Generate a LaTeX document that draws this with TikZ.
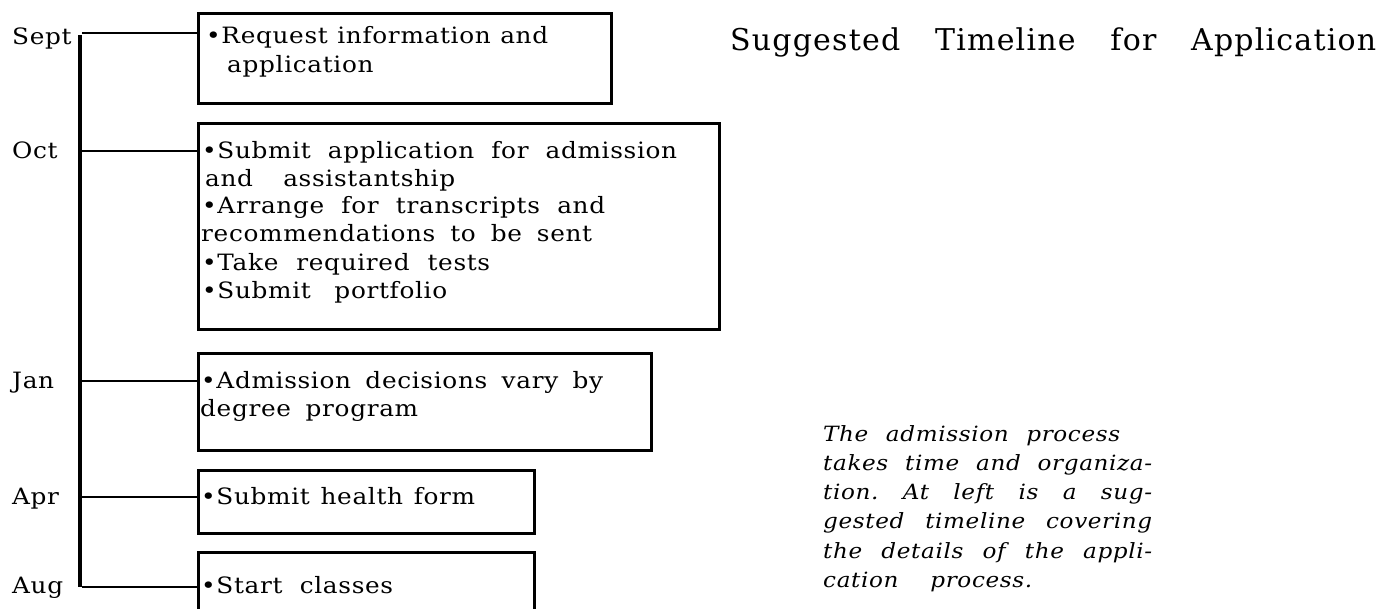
\documentclass[tikz,border=0pt]{standalone}
\usepackage{fontspec}
\newfontfamily\bxfont{DejaVu Serif}[LetterSpace=3,FakeStretch=1.1]
\newfontfamily\ttlfont{DejaVu Serif}[LetterSpace=4]
\newfontfamily\parfont{DejaVu Serif Italic}[LetterSpace=3,FakeStretch=1.1]
\frenchspacing
\tikzset{
  boxtext/.style={font=\bxfont\fontsize{22.5}{28}\selectfont, inner sep=0pt, anchor=base west},
  month/.style={boxtext},
  frame/.style={draw, line width=3pt, anchor=north west, inner sep=0pt},
  conn/.style={line width=2.3pt},
  spine/.style={line width=4.5pt},
  ttl/.style={font=\ttlfont\fontsize{30}{34}\selectfont, inner sep=0pt, anchor=base west},
  para/.style={font=\parfont\fontsize{21}{29}\selectfont, inner sep=0pt, anchor=base west},
}
\newcommand\sline[2]{\makebox[#1pt][s]{#2}}
\begin{document}
\begin{tikzpicture}[x=1pt,y=-1pt]
\fill[white] (0,0) rectangle (1381,608);
\useasboundingbox (0,0) rectangle (1381,608);

% boxes
\node[frame, minimum width=413pt, minimum height=90pt]  (b1) at (197,12) {};
\node[frame, minimum width=521pt, minimum height=206pt] (b2) at (197,122) {};
\node[frame, minimum width=453pt, minimum height=97pt]  (b3) at (197,352) {};
\node[frame, minimum width=336pt, minimum height=63pt]  (b4) at (197,469) {};
\node[frame, minimum width=336pt, minimum height=79pt]  (b5) at (197,551) {};

% spine
\coordinate (top) at (80,35);
\coordinate (bot) at (80,587);
\draw[spine] (top) -- (bot);

% connectors
\coordinate (s1) at (82,33);
\coordinate (s2) at (82,151);
\coordinate (s3) at (82,381);
\coordinate (s4) at (82,497);
\coordinate (s5) at (82,587);
\draw[conn] (s1) -- (s1 -| b1.west);
\draw[conn] (s2) -- (s2 -| b2.west);
\draw[conn] (s3) -- (s3 -| b3.west);
\draw[conn] (s4) -- (s4 -| b4.west);
\draw[conn] (s5) -- (s5 -| b5.west);

% month labels
\node[month] (m1) at (12,44)  {Sept};
\node[month] (m2) at (12,158) {Oct};
\node[month] (m3) at (12,388) {Jan};
\node[month] (m4) at (12,504) {Apr};
\node[month] (m5) at (12,593) {Aug};

% box texts
\node[boxtext] (t1a) at (206,43) {\sline{342}{•Request information and}};
\node[boxtext] (t1b) at (227,72) {application};

\node[boxtext] (t2a) at (202,158) {\sline{475}{•Submit application for admission}};
\node[boxtext] (t2b) at (205,186) {\sline{250}{and assistantship}};
\node[boxtext] (t2c) at (202,213) {\sline{403}{•Arrange for transcripts and}};
\node[boxtext] (t2d) at (201,241) {\sline{391}{recommendations to be sent}};
\node[boxtext] (t2e) at (202,270) {\sline{288}{•Take required tests}};
\node[boxtext] (t2f) at (202,298) {\sline{245}{•Submit portfolio}};

\node[boxtext] (t3a) at (201,388) {\sline{402}{•Admission decisions vary by}};
\node[boxtext] (t3b) at (200,416) {\sline{218}{degree program}};

\node[boxtext] (t4a) at (201,504) {\sline{274}{•Submit health form}};

\node[boxtext] (t5a) at (201,593) {\sline{192}{•Start classes}};

% title
\node[ttl] (title) at (730,50) {\sline{646}{Suggested Timeline for Application}};

% paragraph
\node[para] (p1) at (823,441)   {\sline{297}{The admission process}};
\node[para] (p2) at (823,470)   {\sline{329}{takes time and organiza-}};
\node[para] (p3) at (823,499.5) {\sline{329}{tion. At left is a sug-}};
\node[para] (p4) at (823,528.5) {\sline{329}{gested timeline covering}};
\node[para] (p5) at (823,558)   {\sline{329}{the details of the appli-}};
\node[para] (p6) at (823,587)   {\sline{209}{cation process.}};
\end{tikzpicture}
\end{document}
